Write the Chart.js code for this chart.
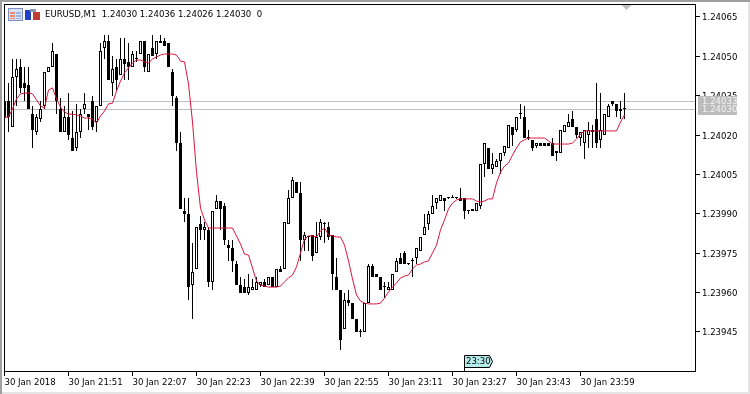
<!DOCTYPE html>
<html>
<head>
<meta charset="utf-8">
<title>EURUSD,M1</title>
<script src="https://cdn.jsdelivr.net/npm/chart.js@4"></script>
<style>
  html, body { margin: 0; padding: 0; background: #fff; }
  canvas { display: block; }
</style>
</head>
<body>
<canvas id="chart1" width="750" height="394"></canvas>
<script>
const opens = [
  1.24033,1.24033,1.24023,1.24042,1.24046,1.24040,1.24039,1.24028,1.24021,1.24026,
  1.24031,1.24044,1.24046,1.24051,1.24030,1.24021,1.24027,1.24019,1.24015,1.24021,
  1.24030,1.24028,1.24033,1.24025,1.24031,1.24053,1.24056,1.24040,1.24046,1.24043,
  1.24049,1.24048,1.24046,1.24049,1.24051,1.24056,1.24044,1.24053,1.24051,1.24056,
  1.24056,1.24055,1.24044,1.24034,1.24017,1.23991,1.23990,1.23963,1.23969,1.23986,
  1.23984,1.23984,1.23964,1.23992,1.23995,1.23993,1.23978,1.23977,1.23971,1.23963,
  1.23962,1.23960,1.23961,1.23961,1.23963,1.23964,1.23963,1.23966,1.23962,1.23969,
  1.23969,1.23986,1.23996,1.24002,1.23998,1.23980,1.23981,1.23982,1.23975,1.23981,
  1.23986,1.23985,1.23982,1.23966,1.23961,1.23946,1.23957,1.23956,1.23950,1.23945,
  1.23945,1.23956,1.23970,1.23967,1.23966,1.23962,1.23961,1.23961,1.23968,1.23973,
  1.23975,1.23971,1.23972,1.23973,1.23976,1.23982,1.23986,1.23990,1.23994,1.23995,
  1.23996,1.23996,1.23996,1.23996,1.23996,1.23996,1.23991,1.23991,1.23991,1.23993,
  1.24009,1.24015,1.24007,1.24008,1.24010,1.24013,1.24015,1.24023,1.24022,1.24028,
  1.24027,1.24019,1.24018,1.24016,1.24017,1.24017,1.24017,1.24017,1.24013,1.24013,
  1.24021,1.24023,1.24026,1.24023,1.24019,1.24017,1.24020,1.24021,1.24026,1.24018,
  1.24020,1.24027,1.24033,1.24032,1.24029,1.24030
];
const highs = [
  1.24036,1.24040,1.24049,1.24049,1.24049,1.24046,1.24046,1.24031,1.24028,1.24033,
  1.24044,1.24046,1.24055,1.24051,1.24034,1.24031,1.24036,1.24029,1.24032,1.24030,
  1.24036,1.24028,1.24035,1.24031,1.24055,1.24058,1.24058,1.24050,1.24049,1.24057,
  1.24057,1.24055,1.24052,1.24052,1.24056,1.24056,1.24051,1.24058,1.24056,1.24058,
  1.24057,1.24055,1.24045,1.24035,1.24021,1.23996,1.23996,1.23979,1.23985,1.23989,
  1.23987,1.23985,1.23991,1.23997,1.23995,1.23994,1.23980,1.23980,1.23972,1.23966,
  1.23965,1.23967,1.23965,1.23966,1.23964,1.23965,1.23966,1.23966,1.23969,1.23970,
  1.23987,1.23999,1.24004,1.24002,1.24002,1.23983,1.23981,1.23982,1.23987,1.23988,
  1.23987,1.23987,1.23982,1.23973,1.23961,1.23960,1.23961,1.23956,1.23950,1.23946,
  1.23956,1.23971,1.23971,1.23967,1.23966,1.23964,1.23964,1.23967,1.23973,1.23975,
  1.23976,1.23971,1.23973,1.23977,1.23981,1.23990,1.23991,1.23997,1.23996,1.23997,
  1.23996,1.23996,1.23997,1.23996,1.24000,1.23996,1.23991,1.23992,1.23994,1.24009,
  1.24017,1.24015,1.24013,1.24011,1.24013,1.24016,1.24024,1.24023,1.24027,1.24032,
  1.24031,1.24022,1.24018,1.24017,1.24017,1.24017,1.24017,1.24019,1.24014,1.24022,
  1.24024,1.24028,1.24029,1.24023,1.24021,1.24022,1.24025,1.24024,1.24040,1.24036,
  1.24028,1.24032,1.24033,1.24032,1.24033,1.24036
];
const lows = [
  1.24026,1.24021,1.24023,1.24031,1.24036,1.24033,1.24030,1.24015,1.24020,1.24025,
  1.24030,1.24044,1.24046,1.24028,1.24021,1.24021,1.24018,1.24014,1.24014,1.24019,
  1.24028,1.24022,1.24022,1.24021,1.24031,1.24049,1.24041,1.24035,1.24037,1.24043,
  1.24041,1.24041,1.24046,1.24048,1.24051,1.24044,1.24044,1.24050,1.24049,1.24055,
  1.24054,1.24046,1.24031,1.24014,1.23992,1.23987,1.23957,1.23950,1.23969,1.23980,
  1.23980,1.23962,1.23961,1.23992,1.23984,1.23978,1.23972,1.23968,1.23963,1.23960,
  1.23960,1.23959,1.23961,1.23961,1.23962,1.23962,1.23963,1.23962,1.23962,1.23968,
  1.23969,1.23986,1.23996,1.23998,1.23972,1.23976,1.23976,1.23972,1.23975,1.23980,
  1.23979,1.23980,1.23961,1.23961,1.23938,1.23946,1.23955,1.23950,1.23945,1.23943,
  1.23945,1.23956,1.23966,1.23966,1.23961,1.23958,1.23961,1.23961,1.23968,1.23971,
  1.23971,1.23971,1.23966,1.23971,1.23976,1.23982,1.23984,1.23990,1.23992,1.23995,
  1.23991,1.23996,1.23996,1.23996,1.23995,1.23988,1.23990,1.23991,1.23991,1.23992,
  1.24004,1.24007,1.24005,1.24008,1.24005,1.24012,1.24015,1.24016,1.24021,1.24026,
  1.24019,1.24018,1.24014,1.24015,1.24016,1.24016,1.24016,1.24012,1.24010,1.24013,
  1.24021,1.24023,1.24023,1.24019,1.24016,1.24011,1.24015,1.24015,1.24015,1.24015,
  1.24020,1.24027,1.24031,1.24027,1.24026,1.24026
];
const closes = [
  1.24027,1.24027,1.24042,1.24045,1.24038,1.24038,1.24030,1.24022,1.24027,1.24030,
  1.24044,1.24046,1.24052,1.24033,1.24021,1.24027,1.24020,1.24014,1.24021,1.24028,
  1.24032,1.24027,1.24023,1.24031,1.24052,1.24056,1.24041,1.24045,1.24041,1.24049,
  1.24047,1.24046,1.24051,1.24049,1.24056,1.24046,1.24051,1.24050,1.24056,1.24055,
  1.24054,1.24046,1.24035,1.24017,1.23992,1.23990,1.23962,1.23968,1.23985,1.23984,
  1.23985,1.23964,1.23991,1.23995,1.23992,1.23980,1.23977,1.23972,1.23963,1.23960,
  1.23960,1.23962,1.23962,1.23964,1.23964,1.23962,1.23966,1.23962,1.23969,1.23968,
  1.23987,1.23996,1.24003,1.23998,1.23980,1.23982,1.23981,1.23974,1.23981,1.23987,
  1.23986,1.23981,1.23967,1.23961,1.23942,1.23957,1.23956,1.23950,1.23945,1.23945,
  1.23956,1.23970,1.23966,1.23966,1.23961,1.23962,1.23962,1.23967,1.23972,1.23971,
  1.23971,1.23971,1.23972,1.23977,1.23981,1.23985,1.23990,1.23993,1.23996,1.23997,
  1.23995,1.23996,1.23996,1.23996,1.23995,1.23991,1.23991,1.23992,1.23994,1.24009,
  1.24017,1.24007,1.24009,1.24010,1.24013,1.24016,1.24024,1.24020,1.24027,1.24028,
  1.24019,1.24019,1.24015,1.24017,1.24016,1.24016,1.24016,1.24012,1.24014,1.24022,
  1.24024,1.24025,1.24023,1.24020,1.24021,1.24022,1.24022,1.24022,1.24017,1.24022,
  1.24028,1.24031,1.24032,1.24029,1.24030,1.24030
];
// the red moving average, one value per bar
const maLine = [
  1.240265,1.240269,1.240300,1.240338,1.240357,1.240360,1.240360,1.240357,1.240334,1.240311,
  1.240303,1.240372,1.240380,1.240338,1.240307,1.240288,1.240280,1.240280,1.240277,1.240273,
  1.240265,1.240265,1.240261,1.240246,1.240273,1.240292,1.240319,1.240322,1.240368,1.240406,
  1.240437,1.240456,1.240475,1.240486,1.240486,1.240479,1.240475,1.240490,1.240498,1.240505,
  1.240509,1.240509,1.240509,1.240505,1.240482,1.240479,1.240395,1.240250,1.240059,1.239922,
  1.239877,1.239846,1.239846,1.239846,1.239846,1.239846,1.239846,1.239846,1.239816,1.239785,
  1.239747,1.239743,1.239694,1.239644,1.239629,1.239625,1.239621,1.239621,1.239621,1.239625,
  1.239641,1.239656,1.239667,1.239698,1.239751,1.239804,1.239816,1.239816,1.239812,1.239835,
  1.239846,1.239820,1.239816,1.239812,1.239812,1.239781,1.239721,1.239652,1.239591,1.239568,
  1.239560,1.239557,1.239557,1.239557,1.239560,1.239579,1.239602,1.239621,1.239637,1.239656,
  1.239663,1.239667,1.239690,1.239705,1.239709,1.239717,1.239721,1.239751,1.239781,1.239839,
  1.239877,1.239919,1.239941,1.239953,1.239957,1.239957,1.239957,1.239957,1.239949,1.239945,
  1.239949,1.239957,1.239957,1.240018,1.240059,1.240082,1.240094,1.240124,1.240151,1.240174,
  1.240182,1.240189,1.240189,1.240189,1.240189,1.240189,1.240178,1.240166,1.240166,1.240166,
  1.240166,1.240166,1.240170,1.240185,1.240204,1.240216,1.240216,1.240216,1.240216,1.240216,
  1.240216,1.240216,1.240216,1.240216,1.240250,1.240277
];

const xTickBars = [0, 16, 32, 48, 64, 80, 96, 112, 128, 144];
const xTickLabels = [
  "30 Jan 2018", "30 Jan 21:51", "30 Jan 22:07", "30 Jan 22:23", "30 Jan 22:39",
  "30 Jan 22:55", "30 Jan 23:11", "30 Jan 23:27", "30 Jan 23:43", "30 Jan 23:59"
];
const yTickValues = [1.24065, 1.24050, 1.24035, 1.24020, 1.24005, 1.23990, 1.23975, 1.23960, 1.23945];

const titleText = "EURUSD,M1  1.24030 1.24036 1.24026 1.24030  0";
const askPrice = 1.24033;
const bidPrice = 1.24030;
const timeTagBar = 115;
const timeTagText = "23:30";
const lastBar = 155;

const axisFont = { family: "'DejaVu Sans Condensed', 'DejaVu Sans'", size: 9.5 };
const fontString = axisFont.size + "px " + axisFont.family;

const wickData = highs.map((h, i) => ({ x: i, y: [lows[i], h] }));
const bodyData = opens.map((o, i) => ({ x: i, y: [o, closes[i]] }));
const maData = maLine.map((v, i) => ({ x: i, y: v }));

const terminalPlugin = {
  id: "terminal",
  beforeDraw(chart) {
    const ctx = chart.ctx;
    // window edges
    ctx.fillStyle = "#e4e4e4";
    ctx.fillRect(0, 392, 750, 2);
    ctx.fillRect(748, 0, 2, 394);
    ctx.fillStyle = "#a0a0a0";
    ctx.fillRect(0, 0, 750, 2);
    ctx.fillRect(0, 0, 2, 394);
  },
  beforeDatasetsDraw(chart) {
    const ctx = chart.ctx;
    const area = chart.chartArea;
    const y = chart.scales.y;
    // snap bars to whole pixels, the terminal draws them crisp
    chart.getSortedVisibleDatasetMetas().forEach((meta) => {
      if (meta.type !== "bar") return;
      meta.data.forEach((bar) => {
        bar.y = Math.round(bar.y);
        bar.base = Math.round(bar.base);
        if (bar.y === bar.base) bar.base = bar.y + 1;
      });
    });
    // ask and bid levels
    ctx.fillStyle = "#c0c0c0";
    [askPrice, bidPrice].forEach((p) => {
      ctx.fillRect(area.left, Math.round(y.getPixelForValue(p)), area.width, 1);
    });
  },
  afterDatasetsDraw(chart) {
    const ctx = chart.ctx;
    const area = chart.chartArea;
    ctx.strokeStyle = "#000";
    ctx.lineWidth = 1;
    ctx.strokeRect(area.left + 0.5, area.top + 0.5, area.width - 1, area.height - 1);
  },
  afterDraw(chart) {
    const ctx = chart.ctx;
    const x = chart.scales.x;
    const y = chart.scales.y;
    ctx.save();
    ctx.font = fontString;
    ctx.textBaseline = "middle";

    // title row
    ctx.fillStyle = "#000";
    ctx.textAlign = "left";
    ctx.fillText(titleText, 45, 15);

    // table icon
    ctx.fillStyle = "#7f8fbf";
    ctx.fillRect(8, 8, 15, 13);
    ctx.fillStyle = "#d8e0f4";
    ctx.fillRect(9, 9, 13, 11);
    ctx.fillStyle = "#e88a70";
    ctx.fillRect(10, 12, 5, 2);
    ctx.fillRect(10, 15, 5, 2);
    ctx.fillRect(10, 18, 5, 1);
    ctx.fillStyle = "#9ab4e8";
    ctx.fillRect(16, 12, 5, 2);
    ctx.fillRect(16, 15, 5, 2);
    ctx.fillRect(16, 18, 5, 1);
    // trade icon
    ctx.fillStyle = "#2040c8";
    ctx.fillRect(25, 10, 6, 10);
    ctx.fillStyle = "#c03c30";
    ctx.fillRect(33, 12, 7, 8);
    ctx.fillStyle = "#8a98b8";
    ctx.fillRect(30, 9, 6, 3);

    // last bar marker on top of the frame
    const markX = x.getPixelForValue(lastBar) + 2;
    ctx.fillStyle = "#c0c0c0";
    ctx.beginPath();
    ctx.moveTo(markX - 5, 5);
    ctx.lineTo(markX + 5, 5);
    ctx.lineTo(markX, 10);
    ctx.closePath();
    ctx.fill();

    // ask and bid price boxes
    const askY = y.getPixelForValue(askPrice);
    const bidY = y.getPixelForValue(bidPrice);
    ctx.fillStyle = "#bcbcbc";
    ctx.fillRect(698, Math.round(askY) - 5, 39, Math.round(bidY - askY) + 11);
    ctx.fillStyle = "#f4f4f4";
    ctx.fillText(askPrice.toFixed(5), 702, askY + 1);
    ctx.fillText(bidPrice.toFixed(5), 702, bidY + 1);

    // vertical time tag
    const tagX = Math.floor(x.getPixelForValue(timeTagBar));
    ctx.fillStyle = "#b4ecec";
    ctx.strokeStyle = "#000";
    ctx.beginPath();
    ctx.moveTo(tagX + 0.5, 355.5);
    ctx.lineTo(tagX + 25.5, 355.5);
    ctx.lineTo(tagX + 28.5, 361.5);
    ctx.lineTo(tagX + 25.5, 367.5);
    ctx.lineTo(tagX + 0.5, 367.5);
    ctx.closePath();
    ctx.fill();
    ctx.stroke();
    ctx.fillStyle = "#000";
    ctx.fillRect(tagX, 367, 1, 5);
    ctx.fillText(timeTagText, tagX + 2, 361.5);
    ctx.restore();
  }
};

new Chart(document.getElementById("chart1").getContext("2d"), {
  type: "bar",
  data: {
    datasets: [
      {
        type: "line",
        label: "MA",
        data: maData,
        borderColor: "#dc143c",
        borderWidth: 1,
        pointRadius: 0,
        tension: 0,
        order: 0
      },
      {
        label: "Body",
        data: bodyData,
        barThickness: 3,
        minBarLength: 1,
        grouped: false,
        inflateAmount: 0,
        borderWidth: 1,
        borderSkipped: false,
        borderColor: "#000",
        backgroundColor: function (context) {
          const i = context.dataIndex;
          return closes[i] > opens[i] ? "#fff" : "#000";
        },
        order: 1
      },
      {
        label: "Wick",
        data: wickData,
        barThickness: 1,
        grouped: false,
        inflateAmount: 0,
        borderWidth: 0,
        backgroundColor: "#000",
        order: 2
      }
    ]
  },
  options: {
    responsive: false,
    animation: false,
    devicePixelRatio: 1,
    layout: { padding: { left: 4, top: 4, right: 0, bottom: 0 } },
    plugins: { legend: { display: false }, tooltip: { enabled: false }, title: { display: false } },
    scales: {
      x: {
        type: "linear",
        min: -0.125,
        max: 172.875,
        offset: false,
        border: { display: false },
        grid: { offset: false, drawOnChartArea: false, drawTicks: true, tickLength: 4, color: "#000" },
        afterBuildTicks(scale) {
          scale.ticks = xTickBars.map((v) => ({ value: v }));
        },
        afterFit(scale) {
          scale.height = 22;
          scale.paddingLeft = 0;
          scale.paddingRight = 0;
        },
        ticks: {
          autoSkip: false,
          maxRotation: 0,
          align: "start",
          padding: 1,
          color: "#000",
          font: axisFont,
          callback: (value, index) => xTickLabels[index]
        }
      },
      y: {
        position: "right",
        min: 1.2392976,
        max: 1.2406995,
        border: { display: false },
        grid: { drawOnChartArea: false, drawTicks: true, tickLength: 4, color: "#000" },
        afterBuildTicks(scale) {
          scale.ticks = yTickValues.map((v) => ({ value: v }));
        },
        afterFit(scale) {
          scale.width = 54;
          scale.paddingTop = 0;
          scale.paddingBottom = 0;
        },
        ticks: {
          autoSkip: false,
          padding: 2,
          labelOffset: 1,
          color: "#000",
          font: axisFont,
          callback: (value) => value.toFixed(5)
        }
      }
    }
  },
  plugins: [terminalPlugin]
});
</script>
</body>
</html>
